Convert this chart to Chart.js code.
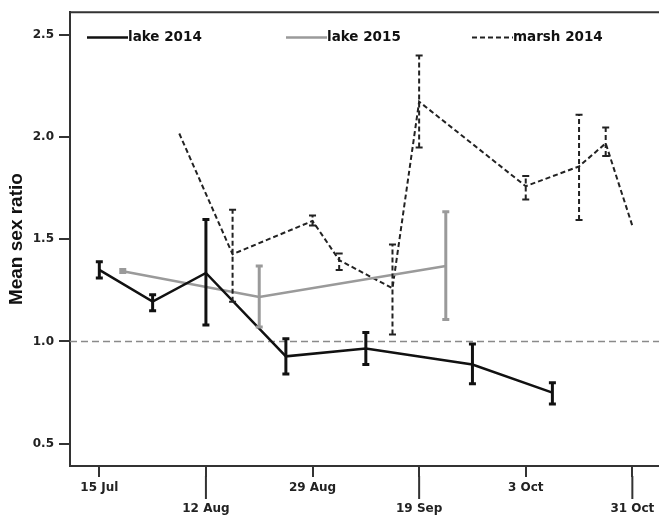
<!DOCTYPE html>
<html>
<head>
<meta charset="utf-8">
<script src="https://cdn.jsdelivr.net/npm/chart.js@4.4.0/dist/chart.umd.min.js"></script>
<style>
body { margin: 0; background: #fff; }
#wrap { width: 659px; height: 521px; }
</style>
</head>
<body>
<div id="wrap"><canvas id="myChart"></canvas></div>
<script>
// x axis: sampling occasions, ticks equally spaced
const tickLabels = ['15 Jul', '12 Aug', '29 Aug', '19 Sep', '3 Oct', '31 Oct'];
const tickPos = [0, 1, 2, 3, 4, 5];
const yTicks = [0.5, 1.0, 1.5, 2.0, 2.5];
const refValue = 1.0;

// lake 2014
const lake14X = [0, 0.5, 1, 1.75, 2.5, 3.5, 4.25];
const lake14Mean = [1.35, 1.195, 1.335, 0.927, 0.965, 0.887, 0.749];
const lake14Lo = [1.31, 1.15, 1.08, 0.841, 0.887, 0.793, 0.693];
const lake14Hi = [1.39, 1.228, 1.597, 1.013, 1.044, 0.987, 0.798];

// lake 2015
const lake15X = [0.22, 1.5, 3.25];
const lake15Mean = [1.344, 1.218, 1.369];
const lake15Lo = [1.338, 1.07, 1.107];
const lake15Hi = [1.352, 1.369, 1.635];

// marsh 2014
const marsh14X = [0.75, 1.25, 2, 2.25, 2.75, 3, 4, 4.5, 4.75, 5];
const marsh14Mean = [2.018, 1.427, 1.59, 1.398, 1.26, 2.174, 1.76, 1.857, 1.97, 1.566];
const marsh14Lo = [null, 1.194, 1.567, 1.35, 1.034, 1.95, 1.695, 1.595, 1.908, null];
const marsh14Hi = [null, 1.645, 1.616, 1.43, 1.475, 2.40, 1.81, 2.11, 2.048, null];

const toPoints = (xs, ys) => xs.map((x, i) => ({ x: x, y: ys[i] }));

const tickFont = { family: '"DejaVu Sans"', weight: 'bold', size: 12 };

// error bars drawn through the scales
const errorBars = {
    id: 'errorBars',
    afterDatasetsDraw(chart) {
        const ctx = chart.ctx;
        const xs = chart.scales.x, ys = chart.scales.y;
        chart.data.datasets.forEach((ds) => {
            ctx.save();
            ctx.strokeStyle = ds.borderColor;
            ctx.lineWidth = ds.errWidth;
            ds.data.forEach((p, i) => {
                const lo = ds.errLo[i], hi = ds.errHi[i];
                if (lo == null || hi == null) return;
                const px = xs.getPixelForValue(p.x);
                const pl = ys.getPixelForValue(lo);
                const ph = ys.getPixelForValue(hi);
                ctx.setLineDash(ds.borderDash || []);
                ctx.beginPath();
                ctx.moveTo(px, pl);
                ctx.lineTo(px, ph);
                ctx.stroke();
                ctx.setLineDash([]);
                ctx.beginPath();
                ctx.moveTo(px - 3.5, pl);
                ctx.lineTo(px + 3.5, pl);
                ctx.moveTo(px - 3.5, ph);
                ctx.lineTo(px + 3.5, ph);
                ctx.stroke();
            });
            ctx.restore();
        });
    }
};

// top frame line, reference line at 1.0, long alternate ticks
const frame = {
    id: 'frame',
    beforeDatasetsDraw(chart) {
        const ctx = chart.ctx;
        const a = chart.chartArea;
        const y1 = chart.scales.y.getPixelForValue(refValue);
        ctx.save();
        ctx.strokeStyle = '#8a8a8a';
        ctx.lineWidth = 1.5;
        ctx.setLineDash([7, 4]);
        ctx.beginPath();
        ctx.moveTo(a.left, y1);
        ctx.lineTo(a.right, y1);
        ctx.stroke();
        ctx.restore();
    },
    afterDraw(chart) {
        const ctx = chart.ctx;
        const a = chart.chartArea;
        const xs = chart.scales.x;
        ctx.save();
        ctx.strokeStyle = '#333';
        ctx.lineWidth = 2;
        ctx.beginPath();
        ctx.moveTo(a.left - 1, a.top);
        ctx.lineTo(a.right, a.top);
        tickPos.forEach((v, i) => {
            if (i % 2 === 1) {
                const px = xs.getPixelForValue(v);
                ctx.moveTo(px, a.bottom + 10);
                ctx.lineTo(px, a.bottom + 33);
            }
        });
        ctx.stroke();
        ctx.restore();
    }
};

// legend inside the plot
const legendX = [87, 286, 472];
const insideLegend = {
    id: 'insideLegend',
    afterDraw(chart) {
        const ctx = chart.ctx;
        const y = 37.5;
        ctx.save();
        ctx.font = 'bold 13.5px "DejaVu Sans"';
        ctx.textBaseline = 'middle';
        ctx.fillStyle = '#111';
        chart.data.datasets.forEach((ds, i) => {
            const x0 = legendX[i];
            ctx.strokeStyle = ds.borderColor;
            ctx.lineWidth = ds.borderWidth;
            ctx.setLineDash(ds.borderDash || []);
            ctx.beginPath();
            ctx.moveTo(x0, y);
            ctx.lineTo(x0 + 41, y);
            ctx.stroke();
            ctx.setLineDash([]);
            ctx.fillText(ds.label, x0 + 41, y);
        });
        ctx.restore();
    }
};

const data = {
    datasets: [{
            label: 'lake 2014',
            data: toPoints(lake14X, lake14Mean),
            errLo: lake14Lo,
            errHi: lake14Hi,
            errWidth: 3,
            borderColor: '#111',
            borderWidth: 2.5,
        },
        {
            label: 'lake 2015',
            data: toPoints(lake15X, lake15Mean),
            errLo: lake15Lo,
            errHi: lake15Hi,
            errWidth: 3,
            borderColor: '#9a9a9a',
            borderWidth: 2.5,
        },
        {
            label: 'marsh 2014',
            data: toPoints(marsh14X, marsh14Mean),
            errLo: marsh14Lo,
            errHi: marsh14Hi,
            errWidth: 2,
            borderColor: '#222',
            borderWidth: 2,
            borderDash: [5, 3],
        },
    ]
};

const config = {
    type: 'line',
    data: data,
    options: {
        responsive: true,
        maintainAspectRatio: false,
        animation: false,
        layout: { padding: { top: 8, left: 0, right: 0, bottom: 0 } },
        elements: { point: { radius: 0 }, line: { tension: 0 } },
        plugins: {
            legend: { display: false },
            tooltip: { enabled: false },
        },
        scales: {
            x: {
                type: 'linear',
                min: -0.275,
                max: 5.25,
                afterBuildTicks: (s) => { s.ticks = tickPos.map(v => ({ value: v })); },
                afterFit: (s) => { s.height = 55; },
                border: { color: '#333', width: 2 },
                grid: { drawOnChartArea: false, drawTicks: true, tickLength: 11, color: '#333', lineWidth: 2 },
                ticks: {
                    autoSkip: false,
                    maxRotation: 0,
                    padding: 0,
                    color: '#222',
                    font: Object.assign({}, tickFont, { lineHeight: 1.75 }),
                    callback: (v) => {
                        const i = tickPos.indexOf(v);
                        if (i < 0) return '';
                        return i % 2 === 1 ? ['', tickLabels[i]] : tickLabels[i];
                    }
                }
            },
            y: {
                min: 0.39,
                max: 2.612,
                afterBuildTicks: (s) => { s.ticks = yTicks.map(v => ({ value: v })); },
                afterFit: (s) => { s.width = 70; },
                border: { color: '#333', width: 2 },
                grid: { drawOnChartArea: false, drawTicks: true, tickLength: 11, color: '#333', lineWidth: 2 },
                ticks: {
                    padding: 5,
                    color: '#222',
                    font: tickFont,
                    callback: (v) => v.toFixed(1)
                },
                title: {
                    display: true,
                    text: 'Mean sex ratio',
                    color: '#111',
                    padding: { top: 5, bottom: 0 },
                    font: { family: '"Liberation Sans"', weight: 'bold', size: 19 }
                }
            }
        }
    },
    plugins: [frame, errorBars, insideLegend]
};

let myChart = new Chart(document.getElementById('myChart'), config);
</script>
</body>
</html>
